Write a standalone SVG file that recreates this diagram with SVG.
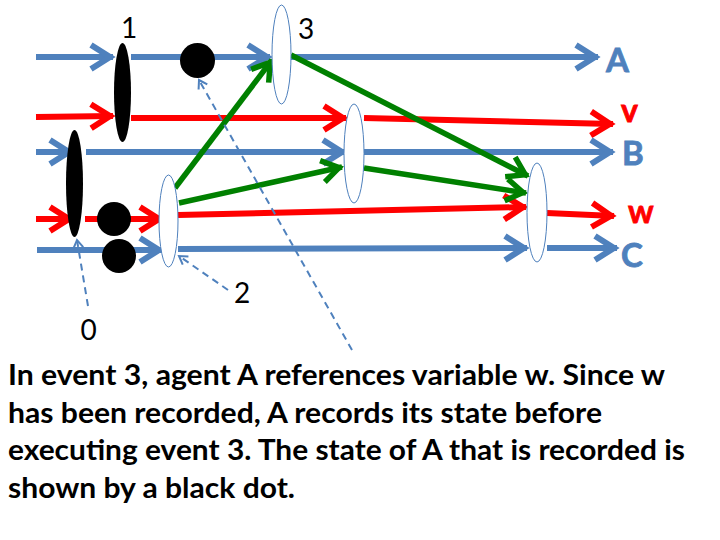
<svg xmlns="http://www.w3.org/2000/svg" width="720" height="540" viewBox="0 0 720 540">
<style>
.bl{fill:none;stroke:#4f81bd;stroke-width:6;marker-end:url(#ab)}
.rd{fill:none;stroke:#ff0000;stroke-width:6;marker-end:url(#ar)}
.gr{fill:none;stroke:#008000;stroke-width:5.5;marker-end:url(#ag)}
.ds{fill:none;stroke:#4f81bd;stroke-width:2;stroke-dasharray:7 5;marker-end:url(#ad)}
.ev{fill:#fff;stroke:#4f81bd;stroke-width:1}
.bk{fill:#000}
.num{font-family:Lato,"Liberation Sans",sans-serif;font-size:28px;fill:#000;text-anchor:middle}
.lb{font-family:Lato,"Liberation Sans",sans-serif;font-weight:bold;fill:#4f81bd;stroke:#4f81bd;stroke-width:0.8;font-size:33px}
.lr{font-family:Lato,"Liberation Sans",sans-serif;font-weight:bold;fill:#ff0000;stroke:#ff0000;stroke-width:0.8;font-size:32px}
.tx{font-family:Lato,"Liberation Sans",sans-serif;font-weight:bold;fill:#000;font-size:28px}
</style>
<defs>
<marker id="ab" markerUnits="userSpaceOnUse" viewBox="-30 -20 40 40" markerWidth="40" markerHeight="40" refX="0" refY="0" orient="auto" overflow="visible"><path d="M-22,-12 L-3,0 L-22,12" fill="none" stroke="#4f81bd" stroke-width="6"/></marker>
<marker id="ar" markerUnits="userSpaceOnUse" viewBox="-30 -20 40 40" markerWidth="40" markerHeight="40" refX="0" refY="0" orient="auto" overflow="visible"><path d="M-22,-12 L-3,0 L-22,12" fill="none" stroke="#ff0000" stroke-width="6"/></marker>
<marker id="ag" markerUnits="userSpaceOnUse" viewBox="-30 -20 40 40" markerWidth="40" markerHeight="40" refX="0" refY="0" orient="auto" overflow="visible"><path d="M-20,-11 L-3,0 L-20,11" fill="none" stroke="#008000" stroke-width="5.5"/></marker>
<marker id="ad" markerUnits="userSpaceOnUse" viewBox="-15 -10 20 20" markerWidth="20" markerHeight="20" refX="0" refY="0" orient="auto" overflow="visible"><path d="M-8,-5 L0,0 L-8,5" fill="none" stroke="#4f81bd" stroke-width="2"/></marker>
</defs>
<rect width="720" height="540" fill="#fff"/>
<g id="connectors">
<path class="bl" d="M36,57 L113,57"/>
<path class="bl" d="M131,57 L270,57"/>
<path class="bl" d="M291,57 L598,57"/>
<path class="rd" d="M36,117 L113,116"/>
<path class="rd" d="M131,118 L346,118"/>
<path class="rd" d="M364,118 L613,124"/>
<path class="bl" d="M36,152 L72,152"/>
<path class="bl" d="M86,152 L345,152"/>
<path class="bl" d="M364,152 L613,152"/>
<path class="rd" d="M36,219 L72,219"/>
<path class="rd" d="M85,219 L162,219"/>
<path class="rd" d="M178,215 L526,207"/>
<path class="rd" d="M547,213 L614,216"/>
<path class="bl" d="M37,250 L162,250"/>
<path class="bl" d="M178,249 L527,248"/>
<path class="bl" d="M547,248 L617,248"/>
<path class="gr" d="M175,188 L272,60"/>
<path class="gr" d="M291,55 L528,176"/>
<path class="gr" d="M179,203 L342,167"/>
<path class="gr" d="M364,168 L526,193"/>
</g>
<g id="event1"><ellipse class="bk" cx="122.5" cy="92.5" rx="8.5" ry="49.5"/></g>
<g id="event0"><ellipse class="bk" cx="74.5" cy="183.5" rx="8.5" ry="53.5"/></g>
<g id="dotA"><circle class="bk" cx="197.5" cy="60.5" r="17.5"/></g>
<g id="dotW"><circle class="bk" cx="114" cy="219" r="17"/></g>
<g id="dotC"><circle class="bk" cx="119" cy="256" r="17"/></g>
<g id="event2"><ellipse class="ev" cx="168.5" cy="221" rx="9.5" ry="46"/></g>
<g id="event3"><ellipse class="ev" cx="281.5" cy="54.5" rx="9.5" ry="49.5"/></g>
<g id="eventB"><ellipse class="ev" cx="354" cy="153.5" rx="10" ry="49.5"/></g>
<g id="eventW"><ellipse class="ev" cx="537" cy="212.5" rx="10" ry="49.5"/></g>
<g id="pointers">
<path class="ds" d="M88,306 L77,240"/>
<path class="ds" d="M228,290 L179,256"/>
<path class="ds" d="M352,350 L199,80"/>
</g>
<g id="labels">
<text class="num" x="129" y="38">1</text>
<text class="num" x="306" y="39">3</text>
<text class="num" x="88.5" y="340">0</text>
<text class="num" x="242" y="303">2</text>
<text class="lb" x="606" y="72">A</text>
<text class="lr" x="621" y="122">v</text>
<text class="lb" x="622" y="165">B</text>
<text class="lr" x="628" y="223">w</text>
<text class="lb" x="621" y="267">C</text>
</g>
<g id="caption">
<text class="tx" x="8" y="385" textLength="657" lengthAdjust="spacingAndGlyphs">In event 3, agent A references variable w. Since w</text>
<text class="tx" x="8" y="423" textLength="594" lengthAdjust="spacingAndGlyphs">has been recorded, A records its state before</text>
<text class="tx" x="8" y="460" textLength="677" lengthAdjust="spacingAndGlyphs">executing event 3. The state of A that is recorded is</text>
<text class="tx" x="8" y="498" textLength="287" lengthAdjust="spacingAndGlyphs">shown by a black dot.</text>
</g>
</svg>
